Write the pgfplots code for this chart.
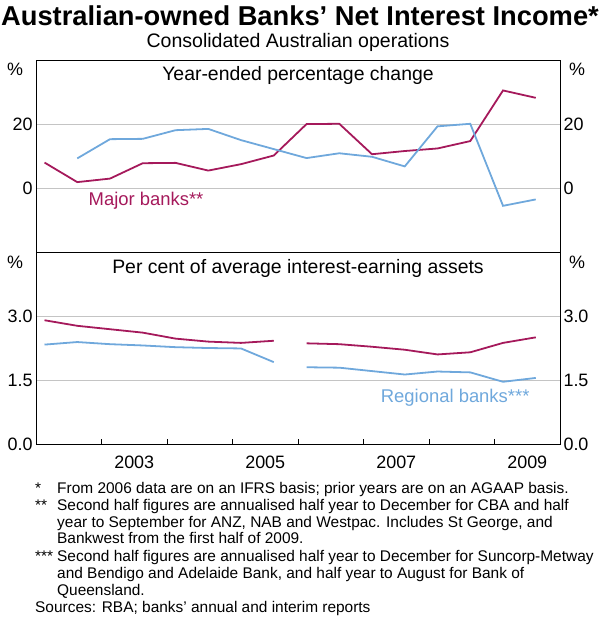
\documentclass[border=0pt]{standalone}
\usepackage{fontspec}
\setmainfont{Liberation Sans}
\usepackage{pgfplots}
\pgfplotsset{compat=1.18}
\definecolor{major}{HTML}{A5195B}
\definecolor{regional}{HTML}{6FA8DC}
\definecolor{gridc}{HTML}{C4C4C4}
\pgfplotsset{
  panel/.style={
    scale only axis, width=524bp, height=192.3bp,
    xmin=2002, xmax=2010,
    axis line style={black, line width=0.8pt},
    tick label style={font=\fontsize{18}{20}\selectfont},
    /pgf/number format/assume math mode=true,
    ymajorgrids, grid style={gridc, line width=0.8pt},
    ytick style={draw=none},
    unbounded coords=jump,
    every axis plot/.append style={line width=1.8pt, mark=none},
  },
  rightlabels/.style={
    scale only axis, width=524bp, height=192.3bp,
    xmin=2002, xmax=2010,
    axis x line=none, axis y line*=right,
    axis line style={draw=none},
    ytick style={draw=none},
    tick label style={font=\fontsize{18}{20}\selectfont},
    /pgf/number format/assume math mode=true,
  },
}
\begin{document}
\begin{tikzpicture}
\path[use as bounding box] (0bp,0bp) rectangle (600bp,-619bp);
\node[font=\bfseries\fontsize{27.4}{30}\selectfont] at (300bp,-16bp) {Australian-owned Banks’ Net Interest Income*};
\node[font=\fontsize{19.6}{22}\selectfont] at (298bp,-42bp) {Consolidated Australian operations};

% top panel
\begin{axis}[panel, at={(36bp,-60bp)}, anchor=north west,
  ymin=-20, ymax=40, ytick={0,20}, xtick=\empty]
\addplot[major] coordinates {
(2002.13,8.0) (2002.63,1.9) (2003.13,3.0) (2003.63,7.8) (2004.13,7.9) (2004.63,5.5)
(2005.13,7.5) (2005.63,10.2) (2006.13,20.0) (2006.63,20.1) (2007.13,10.6) (2007.63,11.6)
(2008.13,12.4) (2008.63,14.7) (2009.13,30.5) (2009.63,28.2)};
\addplot[regional] coordinates {
(2002.63,9.3) (2003.13,15.3) (2003.63,15.4) (2004.13,18.1) (2004.63,18.5)
(2005.13,15.0) (2005.63,12.2) (2006.13,9.4) (2006.63,10.9) (2007.13,9.8) (2007.63,6.8)
(2008.13,19.3) (2008.63,20.1) (2009.13,-5.5) (2009.63,-3.5)};
\node[font=\fontsize{19.5}{22}\selectfont] at (rel axis cs:0.5,0.922) {Year-ended percentage change};
\node[font=\fontsize{18.5}{22}\selectfont, text=major] at (axis cs:2003.68,-3.9) {Major banks**};
\end{axis}
\begin{axis}[rightlabels, at={(36bp,-60bp)}, anchor=north west,
  ymin=-20, ymax=40, ytick={0,20}]
\end{axis}

% bottom panel
\begin{axis}[panel, at={(36bp,-252.3bp)}, anchor=north west,
  ymin=0, ymax=4.5, ytick={0,1.5,3}, yticklabels={0.0,1.5,3.0},
  xtick={2003,...,2009}, xticklabels={}, xtick pos=bottom, xtick align=inside,
  xtick style={black, line width=0.8pt}, major tick length=6bp,
  extra x ticks={2003.5,2005.5,2007.5,2009.5},
  extra x tick labels={2003,2005,2007,2009},
  extra x tick style={major tick length=0pt},
  xticklabel style={yshift=-8bp}]
\addplot[major] coordinates {
(2002.13,2.91) (2002.63,2.78) (2003.13,2.70) (2003.63,2.62) (2004.13,2.48) (2004.63,2.41)
(2005.13,2.38) (2005.63,2.43) (2005.88,nan) (2006.13,2.37) (2006.63,2.35) (2007.13,2.29) (2007.63,2.22)
(2008.13,2.11) (2008.63,2.16) (2009.13,2.38) (2009.63,2.51)};
\addplot[regional] coordinates {
(2002.13,2.34) (2002.63,2.40) (2003.13,2.35) (2003.63,2.32) (2004.13,2.28) (2004.63,2.26)
(2005.13,2.25) (2005.63,1.93) (2005.88,nan) (2006.13,1.81) (2006.63,1.80) (2007.13,1.72) (2007.63,1.64)
(2008.13,1.71) (2008.63,1.69) (2009.13,1.47) (2009.63,1.56)};
\node[font=\fontsize{19.5}{22}\selectfont] at (rel axis cs:0.5,0.918) {Per cent of average interest-earning assets};
\node[font=\fontsize{18.5}{22}\selectfont, text=regional] at (axis cs:2008.40,1.107) {Regional banks***};
\end{axis}
\begin{axis}[rightlabels, at={(36bp,-252.3bp)}, anchor=north west,
  ymin=0, ymax=4.5, ytick={0,1.5,3}, yticklabels={0.0,1.5,3.0}]
\end{axis}

% unit labels
\node[font=\fontsize{18}{20}\selectfont] at (15bp,-69bp) {\%};
\node[font=\fontsize{18}{20}\selectfont] at (577bp,-69bp) {\%};
\node[font=\fontsize{18}{20}\selectfont] at (15bp,-262bp) {\%};
\node[font=\fontsize{18}{20}\selectfont] at (577bp,-262bp) {\%};

% footnotes
\begin{scope}[every node/.style={font=\fontsize{15.5}{17}\selectfont, anchor=base west, inner sep=0pt}]
\node at (35bp,-493.5bp) {*};
\node at (57bp,-493.5bp) {From 2006 data are on an IFRS basis; prior years are on an AGAAP basis.};
\node at (35bp,-510.5bp) {**};
\node at (57bp,-510.5bp) {Second half figures are annualised half year to December for CBA and half};
\node at (57bp,-527.5bp) {year to September for ANZ, NAB and Westpac. Includes St George, and};
\node at (57bp,-543.5bp) {Bankwest from the first half of 2009.};
\node at (35bp,-561.5bp) {***};
\node at (57bp,-561.5bp) {Second half figures are annualised half year to December for Suncorp-Metway};
\node at (57bp,-578.5bp) {and Bendigo and Adelaide Bank, and half year to August for Bank of};
\node at (57bp,-595.5bp) {Queensland.};
\node at (35bp,-612.5bp) {Sources: RBA; banks' annual and interim reports};
\end{scope}
\end{tikzpicture}
\end{document}
